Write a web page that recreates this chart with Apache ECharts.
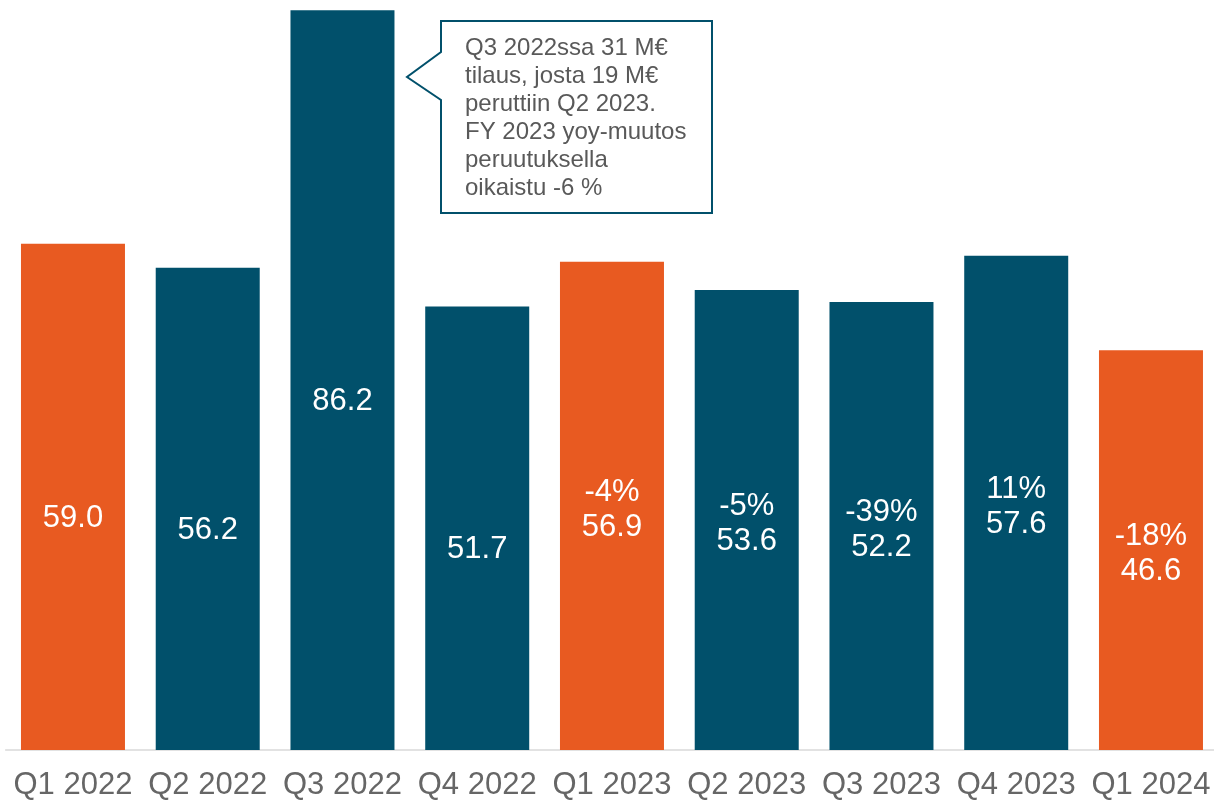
<!DOCTYPE html>
<html>
<head>
<meta charset="utf-8">
<script src="https://cdn.jsdelivr.net/npm/echarts@6/dist/echarts.min.js"></script>
<style>
html,body{margin:0;padding:0;background:#fff;}
#chart{width:1214px;height:804px;}
</style>
</head>
<body>
<div id="chart"></div>
<script>
var categories = ['Q1 2022','Q2 2022','Q3 2022','Q4 2022','Q1 2023','Q2 2023','Q3 2023','Q4 2023','Q1 2024'];
var values = [59.0, 56.2, 86.2, 51.7, 56.9, 53.6, 52.2, 57.6, 46.6];
var yoyChange = ['', '', '', '', '-4%', '-5%', '-39%', '11%', '-18%'];
var calloutText = 'Q3 2022ssa 31 M€\ntilaus, josta 19 M€\nperuttiin Q2 2023.\nFY 2023 yoy-muutos\nperuutuksella\noikaistu -6 %';

var ORANGE = '#E85A21';
var TEAL = '#01506B';
var FONT = '"Liberation Sans", Arial, sans-serif';

var chart = echarts.init(document.getElementById('chart'));
chart.setOption({
  animation: false,
  grid: { left: 5.6, width: 1212.75, top: 3.5, bottom: 54, outerBoundsMode: 'none', containLabel: false },
  xAxis: {
    type: 'category',
    data: categories,
    axisLine: { lineStyle: { color: '#d9d9d9', width: 1.5 } },
    axisTick: { show: false },
    axisLabel: { color: '#666666', fontSize: 31, fontFamily: FONT, margin: 20, interval: 0 }
  },
  yAxis: {
    type: 'value', min: 0, max: 87,
    show: false,
    splitLine: { show: false }
  },
  series: [{
    type: 'bar',
    barWidth: 104,
    data: values.map(function (v, i) {
      return { value: v, itemStyle: { color: categories[i].indexOf('Q1') === 0 ? ORANGE : TEAL } };
    }),
    label: {
      show: true,
      position: 'inside',
      offset: [0, 4],
      color: '#ffffff',
      fontSize: 31,
      lineHeight: 35,
      fontFamily: FONT,
      formatter: function (p) {
        return yoyChange[p.dataIndex] + '\n' + values[p.dataIndex].toFixed(1);
      }
    }
  }],
  graphic: [
    {
      type: 'polygon',
      shape: { points: [[441,21],[712,21],[712,213],[441,213],[441,100],[407,77],[441,52]] },
      style: { fill: '#ffffff', stroke: TEAL, lineWidth: 2 },
      z: 100
    },
    {
      type: 'text',
      x: 465, y: 34,
      style: {
        text: calloutText,
        font: '24px ' + FONT,
        lineHeight: 28,
        fill: '#595959',
        textVerticalAlign: 'top',
        textAlign: 'left'
      },
      z: 101
    }
  ]
});
</script>
</body>
</html>
